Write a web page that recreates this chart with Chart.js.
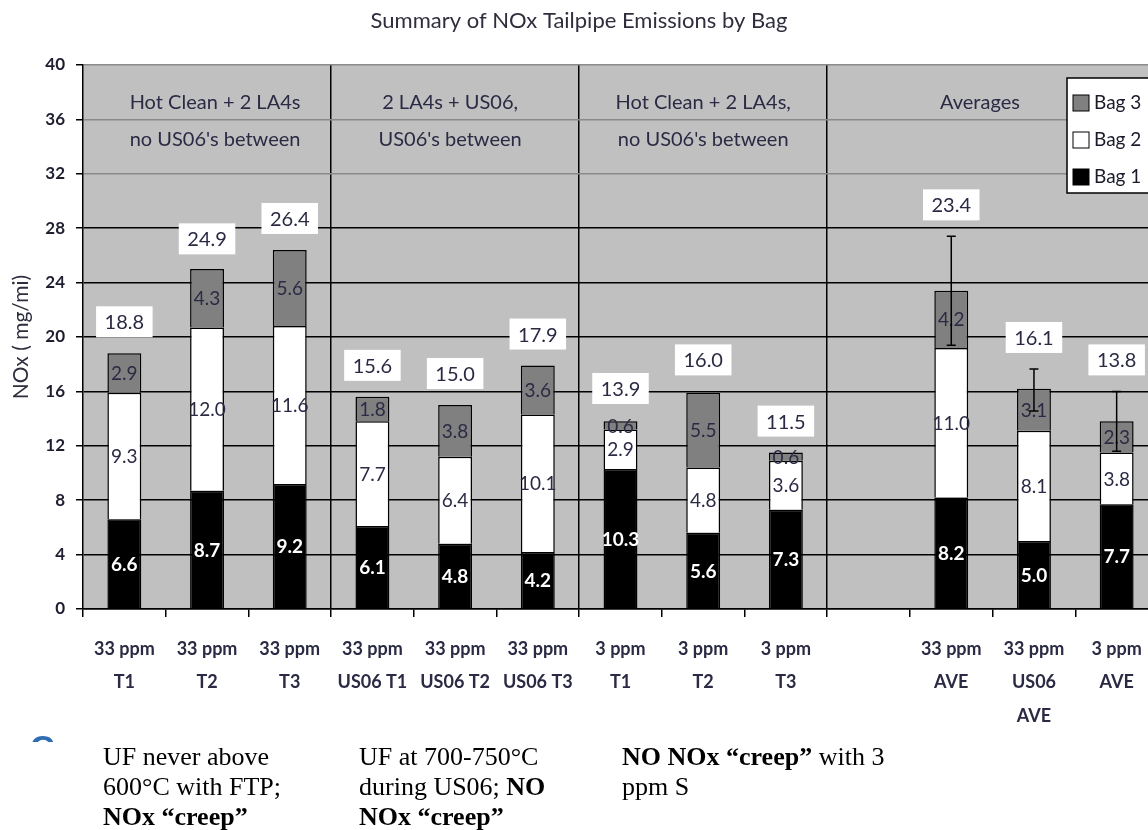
<!DOCTYPE html>
<html>
<head>
<meta charset="utf-8">
<title>Summary of NOx Tailpipe Emissions by Bag</title>
<script src="https://cdn.jsdelivr.net/npm/chart.js@4.4.1/dist/chart.umd.min.js"></script>
<style>
  html, body { margin: 0; padding: 0; background: #fff; overflow: hidden; }
  #wrap { position: absolute; left: 0; top: 0; width: 1160px; height: 830px; }
  .note {
    position: absolute;
    font-family: "Liberation Serif", "Times New Roman", serif;
    font-size: 26px;
    line-height: 30px;
    color: #000;
    white-space: nowrap;
  }
  .stray {
    position: absolute; left: 30px; top: 733px; width: 26px; height: 9px;
    overflow: hidden;
  }
  .stray span {
    display: block; margin-top: -3px;
    font: bold 34px "Liberation Sans", Arial, sans-serif; line-height: 34px; color: #2f6db5;
  }
</style>
</head>
<body>
<div id="wrap"><canvas id="chart"></canvas></div>

<div class="stray"><span>C</span></div>
<div class="note" style="left:103px; top:742px;">UF never above<br>600°C with FTP;<br><b>NOx “creep”</b></div>
<div class="note" style="left:359px; top:742px;">UF at 700-750°C<br>during US06; <b>NO</b><br><b>NOx “creep”</b></div>
<div class="note" style="left:622px; top:742px;"><b>NO NOx “creep”</b> with 3<br>ppm S</div>

<script>
// categories (blank slot separates the averages group)
const categories = [
  ['33 ppm', 'T1'], ['33 ppm', 'T2'], ['33 ppm', 'T3'],
  ['33 ppm', 'US06 T1'], ['33 ppm', 'US06 T2'], ['33 ppm', 'US06 T3'],
  ['3 ppm', 'T1'], ['3 ppm', 'T2'], ['3 ppm', 'T3'],
  '',
  ['33 ppm', 'AVE'], ['33 ppm', 'US06', 'AVE'], ['3 ppm', 'AVE']
];

const bag1 = [6.6, 8.7, 9.2, 6.1, 4.8, 4.2, 10.3, 5.6, 7.3, null, 8.2, 5.0, 7.7];
const bag2 = [9.3, 12.0, 11.6, 7.7, 6.4, 10.1, 2.9, 4.8, 3.6, null, 11.0, 8.1, 3.8];
const bag3 = [2.9, 4.3, 5.6, 1.8, 3.8, 3.6, 0.6, 5.5, 0.6, null, 4.2, 3.1, 2.3];

// totals as printed on the chart
const totals = [18.8, 24.9, 26.4, 15.6, 15.0, 17.9, 13.9, 16.0, 11.5, null, 23.4, 16.1, 13.8];

// error bar half-widths (averages only)
const errors = [null, null, null, null, null, null, null, null, null, null, 4.0, 1.55, 2.2];

const groupHeaders = [
  { lines: ['Hot Clean + 2 LA4s', "no US06's between"], from: 0, to: 2, shift: 8 },
  { lines: ['2 LA4s + US06,', "US06's between"], from: 3, to: 5, shift: -5 },
  { lines: ['Hot Clean + 2 LA4s,', "no US06's between"], from: 6, to: 8, shift: 0 },
  { lines: ['Averages'], from: 10, to: 12, shift: -54 }
];

const dividers = [3, 6, 9];

const FONT = 'Lato, "Open Sans", sans-serif';
const TEXT_DARK = '#2a2a44';

const plotBackground = {
  id: 'plotBackground',
  beforeDraw(chart) {
    const { ctx, chartArea: a } = chart;
    ctx.save();
    ctx.fillStyle = '#c0c0c0';
    ctx.fillRect(a.left, a.top, a.right - a.left, a.bottom - a.top);
    ctx.restore();
  }
};

const groupTitles = {
  id: 'groupTitles',
  afterDraw(chart) {
    const { ctx, chartArea: a } = chart;
    const x = chart.scales.x;
    ctx.save();
    ctx.font = '20px ' + FONT;
    ctx.fillStyle = TEXT_DARK;
    ctx.textAlign = 'center';
    ctx.textBaseline = 'middle';
    groupHeaders.forEach(g => {
      const cx = (x.getPixelForValue(g.from) + x.getPixelForValue(g.to)) / 2 + g.shift;
      g.lines.forEach((line, i) => ctx.fillText(line, cx, a.top + 38 + i * 37));
    });
    ctx.restore();
  }
};

const segmentLabels = {
  id: 'segmentLabels',
  afterDatasetsDraw(chart) {
    const { ctx } = chart;
    ctx.save();
    ctx.textAlign = 'center';
    ctx.textBaseline = 'middle';
    chart.data.datasets.forEach((ds, di) => {
      const meta = chart.getDatasetMeta(di);
      meta.data.forEach((bar, i) => {
        const v = ds.data[i];
        if (v == null) return;
        const cy = (bar.y + bar.base) / 2;
        if (di === 0) {
          ctx.font = 'bold 19px ' + FONT;
          ctx.fillStyle = '#ffffff';
        } else {
          ctx.font = '19px ' + FONT;
          ctx.fillStyle = TEXT_DARK;
        }
        ctx.fillText(v.toFixed(1), bar.x, cy + 1);
      });
    });
    ctx.restore();
  }
};

const errorBarsAndTotals = {
  id: 'errorBarsAndTotals',
  afterDatasetsDraw(chart) {
    const { ctx } = chart;
    const x = chart.scales.x, y = chart.scales.y;
    ctx.save();
    totals.forEach((t, i) => {
      if (t == null) return;
      const cx = x.getPixelForValue(i);
      const err = errors[i] || 0;
      if (err) {
        const yHi = y.getPixelForValue(t + err), yLo = y.getPixelForValue(t - err);
        ctx.strokeStyle = '#000';
        ctx.lineWidth = 1.5;
        ctx.beginPath();
        ctx.moveTo(cx, yHi); ctx.lineTo(cx, yLo);
        ctx.moveTo(cx - 4.5, yHi); ctx.lineTo(cx + 4.5, yHi);
        ctx.moveTo(cx - 4.5, yLo); ctx.lineTo(cx + 4.5, yLo);
        ctx.stroke();
      }
      const top = y.getPixelForValue(t + err);
      const label = t.toFixed(1);
      ctx.font = '20px ' + FONT;
      const w = ctx.measureText(label).width + 17;
      const h = 31;
      const bottom = top - 16;
      ctx.fillStyle = '#ffffff';
      ctx.fillRect(cx - w / 2, bottom - h, w, h);
      ctx.fillStyle = TEXT_DARK;
      ctx.textAlign = 'center';
      ctx.textBaseline = 'middle';
      ctx.fillText(label, cx, bottom - h / 2 + 1);
    });
    ctx.restore();
  }
};

const boxLegend = {
  id: 'boxLegend',
  afterDraw(chart) {
    const { ctx } = chart;
    const left = 1067, top = 78, width = 110, height = 115;
    ctx.save();
    ctx.fillStyle = '#ffffff';
    ctx.fillRect(left, top, width, height);
    ctx.strokeStyle = '#000';
    ctx.lineWidth = 1.5;
    ctx.strokeRect(left, top, width, height);
    ctx.font = '19px ' + FONT;
    ctx.textAlign = 'left';
    ctx.textBaseline = 'middle';
    const items = chart.data.datasets.slice().reverse();
    items.forEach((ds, i) => {
      const cy = top + 25 + i * 37;
      ctx.fillStyle = ds.backgroundColor;
      ctx.fillRect(left + 6, cy - 8, 16, 16);
      ctx.strokeStyle = '#000';
      ctx.lineWidth = 1;
      ctx.strokeRect(left + 6, cy - 8, 16, 16);
      ctx.fillStyle = '#1a1a2a';
      ctx.fillText(ds.label, left + 27, cy);
    });
    ctx.restore();
  }
};

new Chart(document.getElementById('chart'), {
  type: 'bar',
  data: {
    labels: categories,
    datasets: [
      { label: 'Bag 1', data: bag1, backgroundColor: '#000000', borderColor: '#000', borderWidth: 1.5 },
      { label: 'Bag 2', data: bag2, backgroundColor: '#ffffff', borderColor: '#000', borderWidth: 1.5 },
      { label: 'Bag 3', data: bag3, backgroundColor: '#808080', borderColor: '#000', borderWidth: 1.5 }
    ]
  },
  options: {
    responsive: true,
    maintainAspectRatio: false,
    animation: false,
    layout: { padding: { left: 0, right: 2, top: 0, bottom: 0 } },
    datasets: { bar: { barPercentage: 0.41, categoryPercentage: 1.0 } },
    plugins: {
      legend: { display: false },
      tooltip: { enabled: false },
      title: {
        display: true,
        text: 'Summary of NOx Tailpipe Emissions by Bag',
        color: '#2e2e3e',
        font: { family: FONT, size: 22, weight: 'normal', lineHeight: 1.2 },
        padding: { top: 8, bottom: 30.6 }
      }
    },
    scales: {
      x: {
        stacked: true,
        grid: {
          offset: true,
          color: ctx => dividers.includes(ctx.index) ? '#000' : 'rgba(0,0,0,0)',
          lineWidth: 1.5,
          tickColor: '#000',
          tickLength: 8
        },
        border: { color: '#000', width: 1.5 },
        ticks: {
          autoSkip: false,
          maxRotation: 0,
          padding: 15,
          color: TEXT_DARK,
          font: { family: FONT, size: 18, weight: 'bold', lineHeight: 1.86 }
        },
        afterFit(scale) { scale.height = 221; }
      },
      y: {
        stacked: true,
        min: 0,
        max: 40,
        grid: {
          color: ctx => ctx.tick && ctx.tick.value >= 32 ? '#8a8a8a' : '#000',
          lineWidth: 1.5,
          tickColor: '#000',
          tickLength: 7
        },
        border: { color: '#000', width: 1.5 },
        ticks: {
          stepSize: 4,
          padding: 11,
          color: '#1e1e30',
          font: { family: FONT, size: 17, weight: 'bold' }
        },
        title: {
          display: true,
          text: 'NOx ( mg/mi)',
          color: '#2e2e3e',
          padding: { top: 9, bottom: 0 },
          font: { family: FONT, size: 21, weight: 'normal', lineHeight: 1.2 }
        },
        afterFit(scale) { scale.width = 83; }
      }
    }
  },
  plugins: [plotBackground, segmentLabels, errorBarsAndTotals, groupTitles, boxLegend]
});
</script>
</body>
</html>
